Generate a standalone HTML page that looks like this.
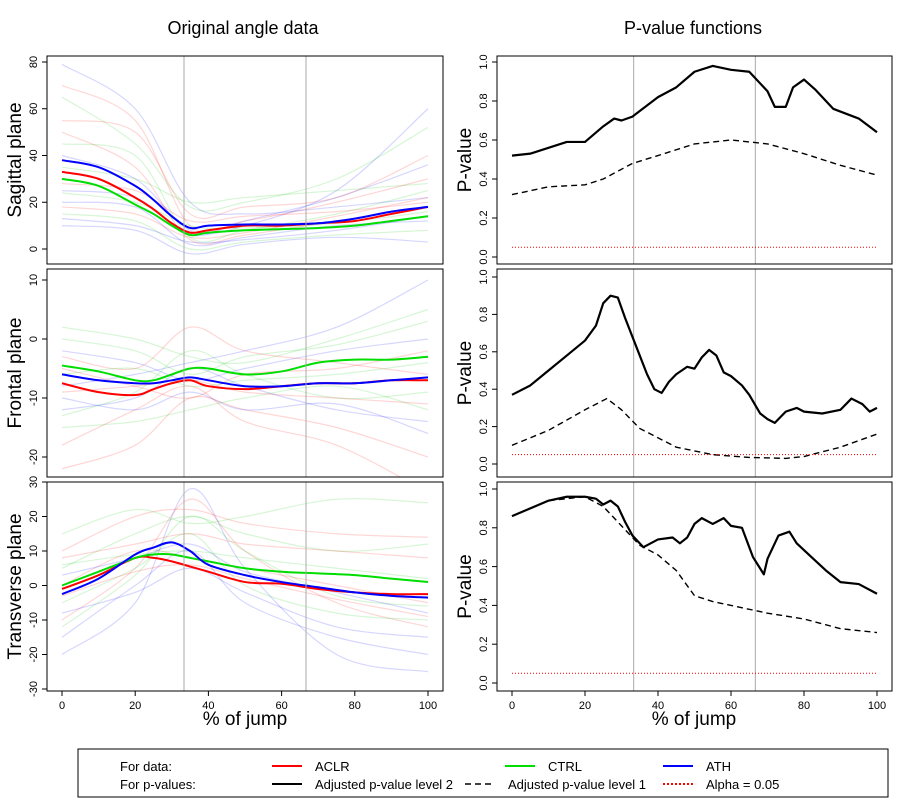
<!DOCTYPE html>
<html><head><meta charset="utf-8"><style>
body{margin:0;background:#fff;}
svg{font-family:"Liberation Sans",Arial,sans-serif;}
</style></head><body>
<svg id="chart" width="900" height="800" viewBox="0 0 900 800"></svg>
<script>
// ---- data ----
const meanX=[0,10,20,25,30,35,40,50,60,70,80,90,100];
const sagACLR=[33,30,22,17,11,7,8,10,10,11,12,15,18];
const sagCTRL=[30,27,19,15,10,6,7,8,8.5,9,10,12,14];
const sagATH=[38,35,27,21,14,9,10,10.5,10.5,11,13,16,18];
const froACLR=[-7.5,-9,-9.5,-8.5,-7.5,-7,-8,-8.5,-8,-7.5,-7.5,-7,-7];
const froCTRL=[-4.5,-5.5,-7,-7,-6,-5,-5,-6,-5.5,-4,-3.5,-3.5,-3];
const froATH=[-6,-7,-7.5,-7.5,-7,-6.5,-7,-8,-8,-7.5,-7.5,-7,-6.5];
const traACLR=[-1,3,8,8,7,5.5,4,1,0.5,-1,-2,-2.5,-2.5];
const traCTRL=[0,4,8,9,9,8,7,5,4,3.5,3,2,1];
const traATH=[-2.5,2,9,11,12.5,10,6,3,1,-0.5,-2,-3,-3.5];
const bgX=[0,20,35,50,75,100];
const sagBg=[[70,55,10,12,20,30],[45,40,5,8,15,25],[20,18,2,5,10,12],[55,50,15,18,22,40],[15,12,0,3,6,8],[40,30,8,10,25,60],[28,25,12,14,16,20],[65,45,18,20,30,52],[10,8,-2,2,5,3],[50,35,4,6,12,18],[35,30,20,22,25,28],[25,22,6,12,22,36],[79,60,20,15,18,22],[13,10,3,4,8,14],[24,20,10,9,11,16],[18,15,5,7,14,22]];
const sagBgC=[0,1,2,0,1,2,0,1,2,0,1,2,2,2,1,0];
const froBg=[[-22,-18,-10,-12,-15,-20],[2,0,-3,-4,0,5],[-12,-10,-5,-8,-12,-14],[-3,-5,2,-2,-4,-6],[-15,-14,-12,-10,-8,-12],[-8,-6,-4,-2,2,10],[-18,-12,-8,-14,-18,-26],[0,-2,-6,-3,-1,3],[-10,-12,-9,-12,-11,-16],[-5,-8,-10,-6,-5,-2],[-13,-9,-2,-6,-10,-9],[-2,-4,-7,-5,-2,0],[-9,-8,-7,-9,-10,-11],[-6,-5,-8,-7,-6,-4]];
const froBgC=[0,1,2,0,1,2,0,1,2,0,1,2,0,1];
const traBg=[[-10,5,25,10,-5,-12],[5,15,20,15,10,12],[-15,0,10,-5,-15,-20],[10,20,22,18,15,14],[-5,5,15,0,-8,-10],[-20,-5,28,5,-20,-25],[0,10,8,5,0,-5],[15,22,18,20,25,24],[-8,-2,5,-2,-12,-15],[8,12,15,12,10,8],[-12,3,20,10,-3,-6],[3,8,12,4,-2,-8],[-3,4,6,2,-4,-9],[6,9,10,8,5,2]];
const traBgC=[0,1,2,0,1,2,0,1,2,0,1,2,0,1];
const p1X=[0,5,10,15,20,25,28,30,33,40,45,50,55,60,65,70,72,75,77,80,83,88,95,100];
const p1Solid=[0.52,0.53,0.56,0.59,0.59,0.67,0.71,0.70,0.72,0.82,0.87,0.95,0.98,0.96,0.95,0.85,0.77,0.77,0.87,0.91,0.86,0.76,0.71,0.64];
const p1dX=[0,10,20,25,33,40,50,60,70,80,90,100];
const p1Dash=[0.32,0.36,0.37,0.40,0.48,0.52,0.58,0.60,0.58,0.53,0.47,0.42];
const p2X=[0,5,10,15,20,23,25,27,29,31,34,37,39,41,43,45,48,50,52,54,56,58,60,63,65,68,70,72,75,78,80,85,90,93,96,98,100];
const p2Solid=[0.37,0.42,0.5,0.58,0.66,0.74,0.86,0.9,0.89,0.78,0.63,0.48,0.40,0.38,0.44,0.48,0.52,0.51,0.57,0.61,0.58,0.49,0.47,0.42,0.37,0.27,0.24,0.22,0.28,0.30,0.28,0.27,0.29,0.35,0.32,0.28,0.30];
const p2dX=[0,10,20,26,30,35,45,55,65,75,80,90,100];
const p2Dash=[0.1,0.18,0.29,0.35,0.29,0.19,0.09,0.05,0.035,0.03,0.04,0.09,0.16];
const p3X=[0,5,10,15,20,23,25,27,29,31,33,36,38,40,44,46,48,50,52,55,58,60,63,66,69,70,73,76,78,82,86,90,95,100];
const p3Solid=[0.86,0.9,0.94,0.96,0.96,0.95,0.92,0.94,0.91,0.83,0.76,0.70,0.72,0.74,0.75,0.72,0.75,0.82,0.85,0.82,0.85,0.81,0.80,0.65,0.56,0.64,0.76,0.78,0.72,0.65,0.58,0.52,0.51,0.46];
const p3dX=[0,10,20,25,30,35,40,45,50,55,60,70,80,90,100];
const p3Dash=[0.86,0.94,0.96,0.91,0.81,0.71,0.66,0.58,0.45,0.42,0.40,0.36,0.33,0.28,0.26];
const leftTicks=[[0,20,40,60,80],[-20,-10,0,10],[-30,-20,-10,0,10,20,30]];
const pTicks=[0,0.2,0.4,0.6,0.8,1.0];
const xTicks=[0,20,40,60,80,100];

// ---- helpers ----
const svg=document.getElementById('chart');
const NS='http://www.w3.org/2000/svg';
function el(tag,attrs,parent){const e=document.createElementNS(NS,tag);for(const k in attrs)e.setAttribute(k,attrs[k]);(parent||svg).appendChild(e);return e;}
function smooth(pts){let d='M'+pts[0][0]+','+pts[0][1];for(let i=0;i<pts.length-1;i++){const p0=pts[i-1]||pts[i],p1=pts[i],p2=pts[i+1],p3=pts[i+2]||p2;const c1=[p1[0]+(p2[0]-p0[0])/6,p1[1]+(p2[1]-p0[1])/6],c2=[p2[0]-(p3[0]-p1[0])/6,p2[1]-(p3[1]-p1[1])/6];d+=' C'+c1+' '+c2+' '+p2;}return d;}
function lin(d0,d1,r0,r1){return v=>r0+(v-d0)/(d1-d0)*(r1-r0);}
const lx=lin(0,100,62,428), rx=lin(0,100,512,877);
const panels=[
 {x0:47,x1:443,y0:56,y1:264,sy:lin(0,80,249,62)},
 {x0:47,x1:443,y0:269,y1:477,sy:lin(-20,10,457,280)},
 {x0:47,x1:443,y0:482,y1:691,sy:lin(-30,30,689,482)},
 {x0:497,x1:892,y0:56,y1:264,sy:lin(0,1,257,62)},
 {x0:497,x1:892,y0:269,y1:477,sy:lin(0,1,464,277)},
 {x0:497,x1:892,y0:482,y1:691,sy:lin(0,1,683,489)}];
const cols=['#ff0000','#00dd00','#0000ff'];
const bgCols=['rgba(255,0,0,0.16)','rgba(0,200,0,0.16)','rgba(0,0,255,0.16)'];

function frame(p,name){
 const r=el('rect',{x:p.x0,y:p.y0,width:p.x1-p.x0,height:p.y1-p.y0,fill:'none',stroke:'#000','stroke-width':1});
 
 
}
function vlines(p,xs){[100/3,200/3].forEach(v=>{const l=el('line',{x1:xs(v),x2:xs(v),y1:p.y0,y2:p.y1,stroke:'#aaa','stroke-width':1});});}
function yticks(p,ticks,fmt){const g=el('g',{});
 ticks.forEach(t=>{const y=p.sy(t);el('line',{x1:p.x0-5,x2:p.x0,y1:y,y2:y,stroke:'#000'},g);
  const tx=el('text',{x:p.x0-10,y:y,'font-size':11,'text-anchor':'middle',transform:`rotate(-90 ${p.x0-10} ${y})`},g);tx.textContent=fmt(t);});}
function xticks(p,xs){const g=el('g',{});
 xTicks.forEach(t=>{const x=xs(t);el('line',{x1:x,x2:x,y1:p.y1,y2:p.y1+5,stroke:'#000'},g);const tx=el('text',{x:x,y:p.y1+18,'font-size':11,'text-anchor':'middle'},g);tx.textContent=t;});}
function path(xsArr,ys,xs,sy,attrs,name){const pts=xsArr.map((x,i)=>[xs(x),sy(ys[i])]);const a=Object.assign({d:smooth(pts),fill:'none'},attrs);const e=el('path',a);return e;}
function rawpath(xsArr,ys,xs,sy,attrs,name){const d='M'+xsArr.map((x,i)=>xs(x)+','+sy(ys[i])).join(' L');const e=el('path',Object.assign({d:d,fill:'none'},attrs));}

// left panels
const bgs=[[sagBg,sagBgC],[froBg,froBgC],[traBg,traBgC]];
const means=[[sagACLR,sagCTRL,sagATH],[froACLR,froCTRL,froATH],[traACLR,traCTRL,traATH]];
const names=['sagittal','frontal','transverse'];
for(let i=0;i<3;i++){const p=panels[i];
 const cp=el('clipPath',{id:'c'+i});el('rect',{x:p.x0,y:p.y0,width:p.x1-p.x0,height:p.y1-p.y0},cp);
 const g=el('g',{'clip-path':`url(#c${i})`});
 vlines(p,lx);
 bgs[i][0].forEach((ys,j)=>{const e=path(bgX,ys,lx,p.sy,{stroke:bgCols[bgs[i][1][j]],'stroke-width':1.2},names[i]+'-subject-curve');g.appendChild(e);});
 ['aclr','ctrl','ath'].forEach((n,k)=>{const e=path(meanX,means[i][k],lx,p.sy,{stroke:cols[k],'stroke-width':2},names[i]+'-mean-'+n);g.appendChild(e);});
 frame(p,names[i]+'-panel');
 yticks(p,leftTicks[i],t=>t);
}
xticks(panels[2],lx);
// right panels
const pv=[[p1X,p1Solid,p1dX,p1Dash],[p2X,p2Solid,p2dX,p2Dash],[p3X,p3Solid,p3dX,p3Dash]];
for(let i=0;i<3;i++){const p=panels[3+i];
 vlines(p,rx);
 rawpath(pv[i][0],pv[i][1],rx,p.sy,{stroke:'#000','stroke-width':2.2,'stroke-linejoin':'round'},names[i]+'-pvalue-level2');
 rawpath(pv[i][2],pv[i][3],rx,p.sy,{stroke:'#000','stroke-width':1.4,'stroke-dasharray':'6,4'},names[i]+'-pvalue-level1');
 const ay=p.sy(0.05);const a=el('line',{x1:rx(0),x2:rx(100),y1:ay,y2:ay,stroke:'#ff0000','stroke-width':1,'stroke-dasharray':'1,2'});
 
 frame(p,names[i]+'-pvalue-panel');
 yticks(p,pTicks,t=>t.toFixed(1));
 const yc=(p.y0+p.y1)/2;
 const yt=el('text',{x:471,y:yc,'font-size':19,'text-anchor':'middle',transform:`rotate(-90 471 ${yc})`});yt.textContent='P-value';
 
}
xticks(panels[5],rx);
// left y titles
['Sagittal plane','Frontal plane','Transverse plane'].forEach((t,i)=>{const p=panels[i];const yc=(p.y0+p.y1)/2;
 const e=el('text',{x:21,y:yc,'font-size':19,'text-anchor':'middle',transform:`rotate(-90 21 ${yc})`});e.textContent=t;
 });
</script>
<svg width="900" height="800" style="position:absolute;left:0;top:0">
<text x="243" y="34" font-size="18" text-anchor="middle" font-family="Liberation Sans">Original angle data</text>
<text x="693" y="34" font-size="18" text-anchor="middle" font-family="Liberation Sans">P-value functions</text>
<text x="245" y="725" font-size="19" text-anchor="middle" font-family="Liberation Sans">% of jump</text>
<text x="694" y="725" font-size="19" text-anchor="middle" font-family="Liberation Sans">% of jump</text>
<g font-family="Liberation Sans" font-size="13">
<rect x="78" y="749" width="810" height="48" fill="none" stroke="#000"/>
<text x="120" y="771">For data:</text>
<text x="120" y="789">For p-values:</text>
<line x1="272" x2="302" y1="766" y2="766" stroke="#f00" stroke-width="2"/><text x="315" y="771">ACLR</text>
<line x1="505" x2="535" y1="766" y2="766" stroke="#0d0" stroke-width="2"/><text x="548" y="771">CTRL</text>
<line x1="663" x2="693" y1="766" y2="766" stroke="#00f" stroke-width="2"/><text x="706" y="771">ATH</text>
<line x1="272" x2="302" y1="784" y2="784" stroke="#000" stroke-width="2"/><text x="315" y="789">Adjusted p-value level 2</text>
<line x1="465" x2="495" y1="784" y2="784" stroke="#000" stroke-width="1.5" stroke-dasharray="6,4"/><text x="508" y="789">Adjusted p-value level 1</text>
<line x1="663" x2="693" y1="784" y2="784" stroke="#f00" stroke-width="2" stroke-dasharray="2,2"/><text x="706" y="789">Alpha = 0.05</text>
</g>
</svg>
</body></html>
